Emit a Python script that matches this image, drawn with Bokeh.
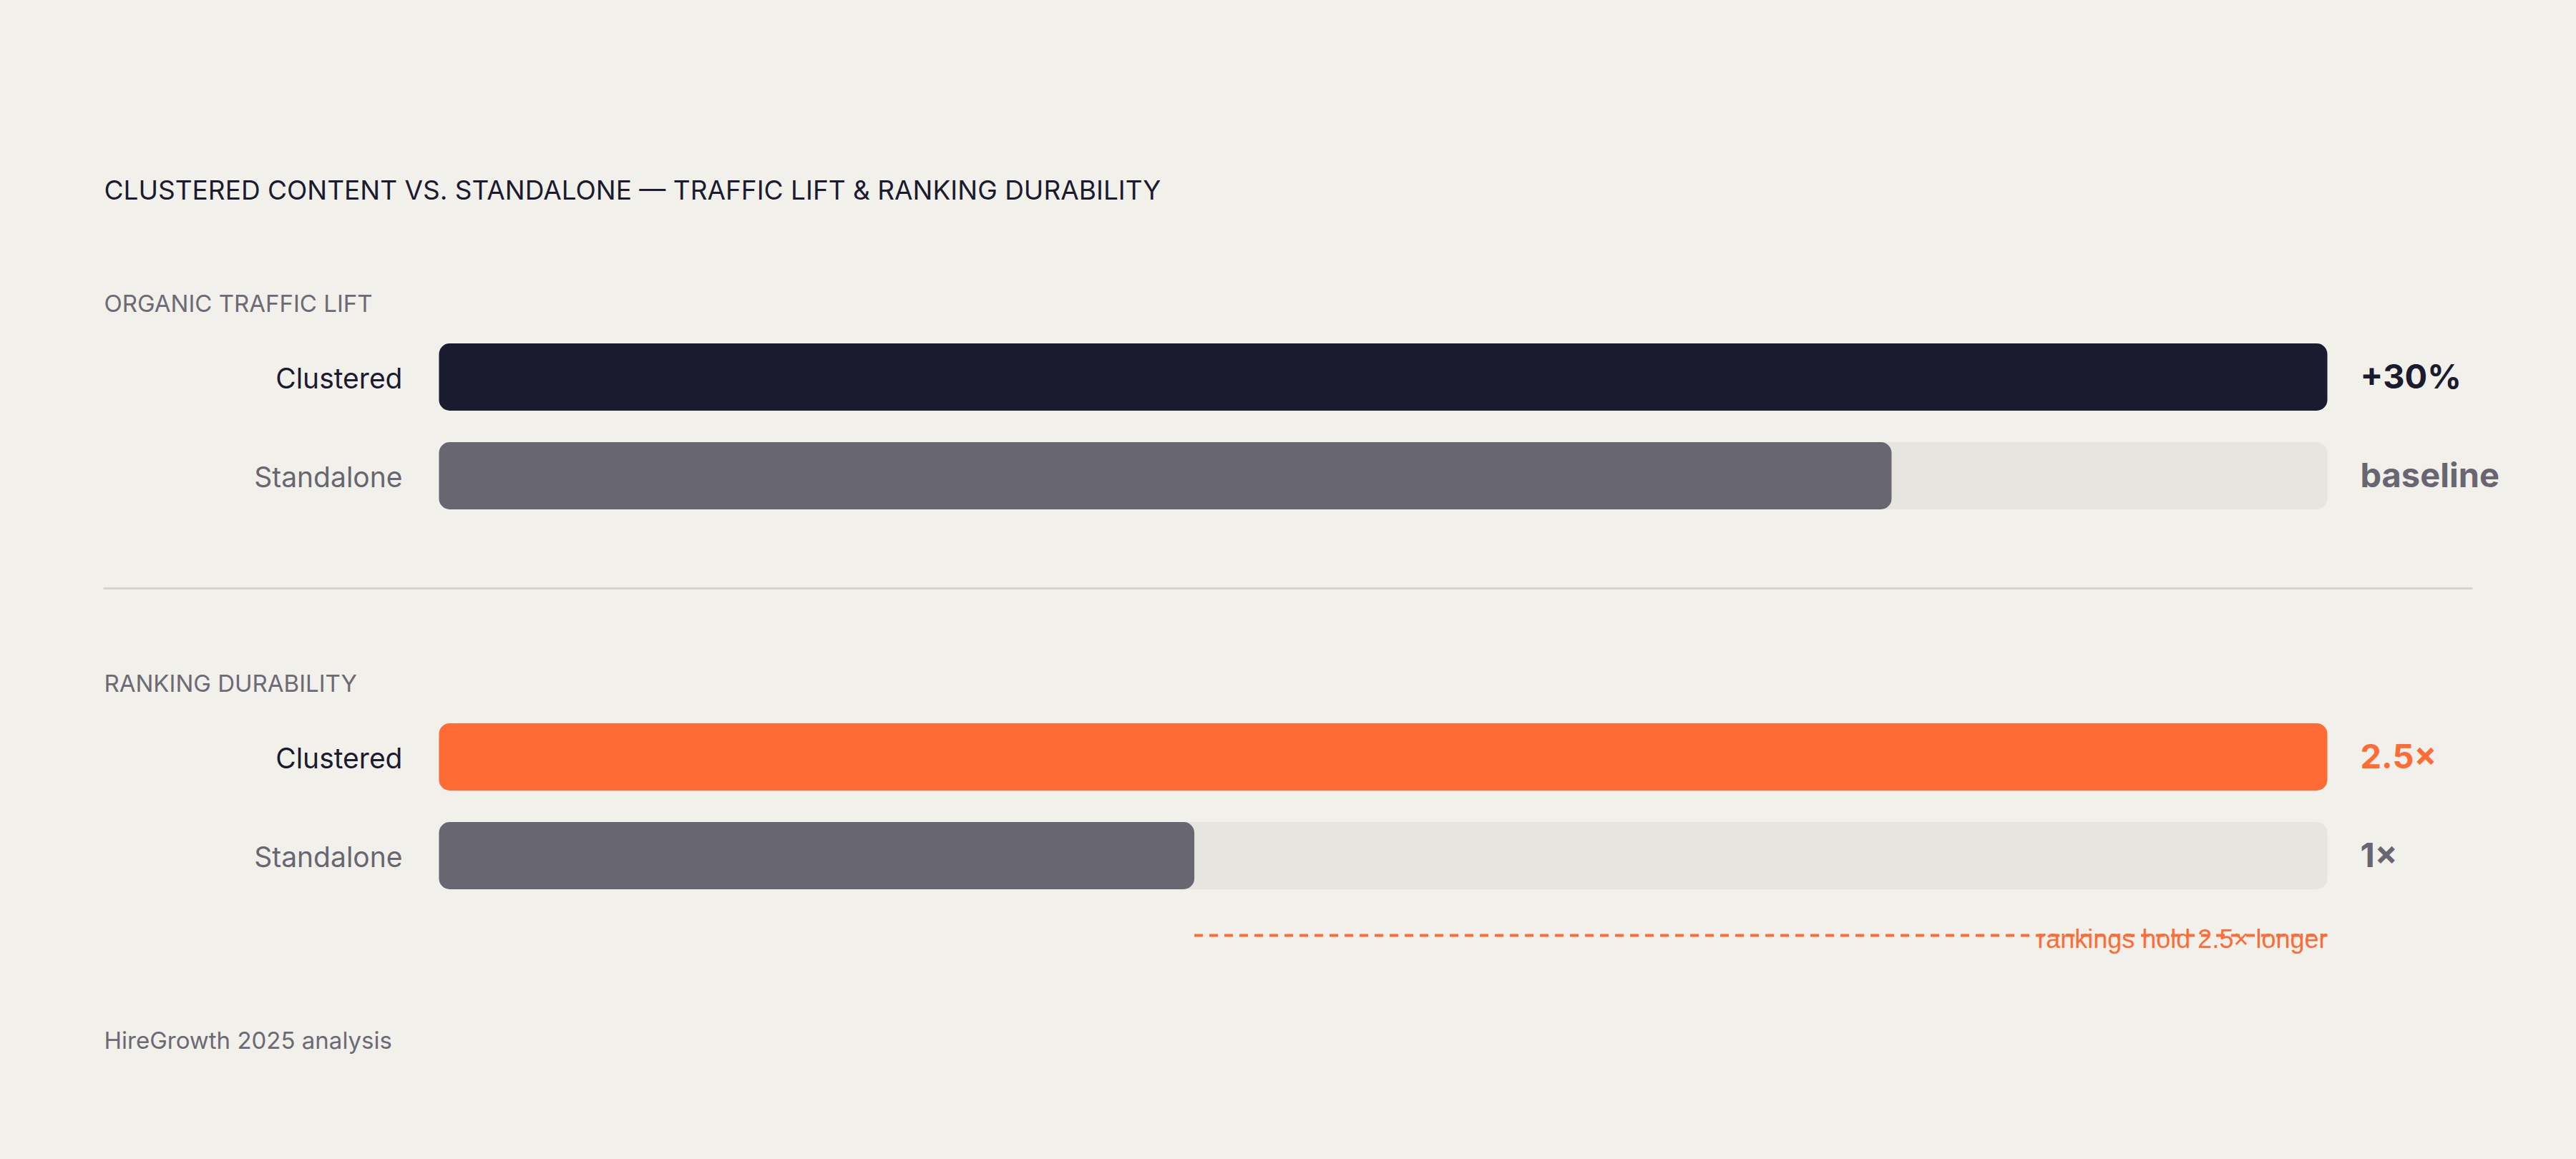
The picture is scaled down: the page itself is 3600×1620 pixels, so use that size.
from bokeh.plotting import figure
from bokeh.models import Range1d, Label, ColumnDataSource
from bokeh.core.properties import value
from bokeh.embed import file_html
from bokeh.resources import INLINE

# ---------------- data ----------------
title_text = "CLUSTERED CONTENT VS. STANDALONE — TRAFFIC LIFT & RANKING DURABILITY"
section_titles = ["ORGANIC TRAFFIC LIFT", "RANKING DURABILITY"]
categories = ["Clustered", "Standalone"]
traffic_index = [130, 100]          # standalone = baseline (100), clustered = +30%
traffic_labels = ["+30%", "baseline"]
durability = [2.5, 1.0]             # ranking durability multiple
durability_labels = ["2.5×", "1×"]
annotation_text = "rankings hold 2.5× longer"
source_text = "HireGrowth 2025 analysis"

# ---------------- style / layout ----------------
BG = "#F1F0EB"
TRACK = "#E6E5E0"
DARK = "#1B1B2F"
GREY = "#686671"
MUTED = "#6B6A75"
ORANGE = "#FF6B35"
SEP = "#D6D4CE"
FONT = "Inter"

W, H = 3584, 1604
TRACK_L, TRACK_R = 613, 3252
TW = TRACK_R - TRACK_L
GROUP_CENTER = [526.5, 1057.5]
ROW_PITCH = 138
BAR_H = 94
RADIUS = 15
LEFT_TEXT = 145

tmax = max(traffic_index)
dmax = max(durability)

p = figure(width=W, height=H, output_backend="svg", toolbar_location=None,
           x_range=Range1d(-TRACK_L / TW * tmax, (W - TRACK_L) / TW * tmax),
           y_range=Range1d(H, 0), min_border=0)
p.extra_x_ranges = {"dur": Range1d(-TRACK_L / TW * dmax, (W - TRACK_L) / TW * dmax)}
p.background_fill_color = BG
p.border_fill_color = BG
p.outline_line_color = None
p.xaxis.visible = False
p.yaxis.visible = False
p.xgrid.visible = False
p.ygrid.visible = False

groups = [
    dict(vals=traffic_index, labels=traffic_labels, rng="default", vmax=tmax,
         bar_colors=[DARK, GREY], val_colors=[DARK, GREY]),
    dict(vals=durability, labels=durability_labels, rng="dur", vmax=dmax,
         bar_colors=[ORANGE, GREY], val_colors=[ORANGE, GREY]),
]

for gi, g in enumerate(groups):
    ys = [GROUP_CENTER[gi] + i * ROW_PITCH for i in range(len(categories))]
    # background tracks
    p.hbar(y=ys, left=0, right=g["vmax"], height=BAR_H, fill_color=TRACK,
           line_color=None, border_radius=RADIUS, x_range_name=g["rng"])
    src = ColumnDataSource(dict(y=ys, v=g["vals"], c=g["bar_colors"],
                                cat=categories, lab=g["labels"], vc=g["val_colors"],
                                rc=[DARK, GREY], ty=[y + 1.5 for y in ys],
                                vy=[y - 2 for y in ys], vmax=[g["vmax"]] * len(ys),
                                zero=[0] * len(ys)))
    p.hbar(y="y", left=0, right="v", height=BAR_H, fill_color="c", line_color=None,
           border_radius=RADIUS, source=src, x_range_name=g["rng"])
    # row labels
    p.text(x="zero", y="ty", text="cat", source=src, x_offset=-51, text_align="right",
           text_baseline="middle", text_font=value(FONT), text_font_size="39px",
           text_color="rc", x_range_name=g["rng"])
    # value labels
    p.text(x="vmax", y="vy", text="lab", source=src, x_offset=46, text_align="left",
           text_baseline="middle", text_font=value(FONT), text_font_size="47px",
           text_font_style="bold", text_color="vc", x_range_name=g["rng"])
    # section heading
    p.add_layout(Label(x=LEFT_TEXT, x_units="screen", y=GROUP_CENTER[gi] - 103.5,
                       y_units="data", text=section_titles[gi], text_font=FONT,
                       text_font_size="33px", text_color=MUTED, text_baseline="middle"))

# separator between sections
def px_to_traffic(px):
    return (px - TRACK_L) / TW * tmax

p.segment(x0=[px_to_traffic(144)], x1=[px_to_traffic(3455)], y0=[822], y1=[822],
          line_color=SEP, line_width=3)

# durability annotation: dashed gap line + label
dash_y = GROUP_CENTER[1] + ROW_PITCH + 111.5
p.segment(x0=[durability[1]], x1=[durability[0]], y0=[dash_y], y1=[dash_y],
          line_color=ORANGE, line_width=4, line_dash="12 9", x_range_name="dur")
p.text(x=[durability[0]], y=[dash_y + 5], text=[annotation_text], text_align="right",
       text_baseline="middle", text_font=value("Liberation Sans"),
       text_font_size="36px", text_color=ORANGE, x_range_name="dur")

# title and footer
p.add_layout(Label(x=LEFT_TEXT, x_units="screen", y=264.5, y_units="data", text=title_text,
                   text_font=FONT, text_font_size="37px", text_color=DARK,
                   text_baseline="middle"))
p.add_layout(Label(x=LEFT_TEXT, x_units="screen", y=1453, y_units="data", text=source_text,
                   text_font=FONT, text_font_size="33px", text_color=MUTED,
                   text_baseline="middle"))

try:
    from jinja2 import Template
    tmpl = Template("{% extends base %}{% block preamble %}<style>html,body{background:"
                    + BG + ";}</style>{% endblock %}")
    html = file_html(p, INLINE, title="Clustered vs standalone", template=tmpl)
except Exception:
    html = file_html(p, INLINE, title="Clustered vs standalone")

open("out.html", "w").write(html)
